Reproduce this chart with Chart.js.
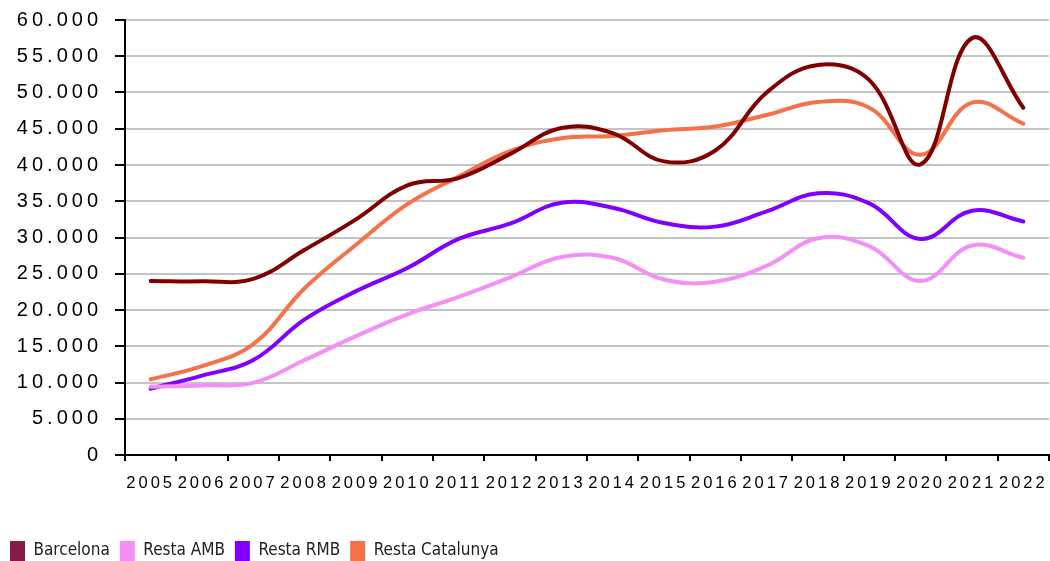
<!DOCTYPE html>
<html><head><meta charset="utf-8">
<script src="https://cdn.jsdelivr.net/npm/chart.js@4/dist/chart.umd.min.js"></script>
<style>html,body{margin:0;padding:0;background:#fff}#wrap{width:1050px;height:561px;position:relative}</style>
</head><body><div id="wrap"><canvas id="c"></canvas></div>
<script>
const years = ['2005','2006','2007','2008','2009','2010','2011','2012','2013','2014','2015','2016','2017','2018','2019','2020','2021','2022'];
const seriesNames = ['Barcelona','Resta AMB','Resta RMB','Resta Catalunya'];
const barcelona = [24000,23950,24300,28300,32500,37200,38200,41500,45100,44400,40500,42000,50000,53800,51700,40100,57500,47900];
const restaAMB  = [9400,9600,9950,13100,16400,19400,21800,24500,27300,27200,24200,23900,26100,29900,28800,24000,28900,27200];
const restaRMB  = [9150,10950,13100,18700,22600,25800,29800,31900,34800,34100,32000,31500,33600,36100,34700,29800,33700,32200];
const restaCat  = [10450,12250,15300,23000,29000,34600,38400,41900,43700,44000,44800,45300,46900,48700,47900,41400,48600,45700];
const yMin = 0, yMax = 60000, yStep = 5000;

const lineColors = ['#800000','#F290F5','#8000FF','#F4714A'];
const legendColors = ['#861A48','#F290F5','#8000FF','#F4714A'];

function fmt(v){ return String(v).replace(/\B(?=(\d{3})+(?!\d))/g,'.'); }

const spacing = {x:'3px', y:'4px'};
const spacingPlugin = {
  id:'spacing',
  beforeDraw(chart){
    ['x','y'].forEach(id=>{
      const s = chart.scales[id];
      if (s && !s._spPatched){
        const orig = s.drawLabels.bind(s);
        s.drawLabels = function(area){
          const ctx = this.ctx; ctx.save(); ctx.letterSpacing = spacing[id]; orig(area); ctx.restore();
        };
        s._spPatched = true;
      }
    });
  }
};

const data = [barcelona, restaAMB, restaRMB, restaCat];

new Chart(document.getElementById('c'), {
  type:'line',
  data:{
    labels: years,
    datasets: data.map((d,i)=>({
      label: seriesNames[i], data: d, borderColor: lineColors[i], backgroundColor: legendColors[i],
      borderWidth: 4, pointRadius: 0, tension: 0.4, fill:false, borderCapStyle:'round', borderJoinStyle:'round'
    }))
  },
  options:{
    responsive:true, maintainAspectRatio:false, animation:false,
    layout:{padding:{top:20,right:1,bottom:-10,left:0}},
    plugins:{
      tooltip:{enabled:false},
      legend:{
        position:'bottom', align:'start',
        labels:{
          boxWidth:15, boxHeight:20, padding:10, color:'#222',
          font:{family:"'DejaVu Sans Condensed', Roboto, sans-serif", size:17},
          generateLabels(chart){
            return chart.data.datasets.map((ds,i)=>({text:ds.label, fillStyle:legendColors[i], strokeStyle:legendColors[i], lineWidth:0, hidden:false, datasetIndex:i, fontColor:'#222'}));
          }
        }
      }
    },
    scales:{
      x:{
        offset:true,
        grid:{offset:true, drawOnChartArea:false, drawTicks:true, tickLength:6, tickColor:'#000', lineWidth:2},
        border:{color:'#000', width:2},
        ticks:{color:'#000', font:{family:"'Liberation Sans', Arial, sans-serif", size:16.5}, padding:13, maxRotation:0, autoSkip:false},
        afterFit(s){ s.height = 76; s.paddingLeft = 0; s.paddingRight = 0; }
      },
      y:{
        min:yMin, max:yMax,
        grid:{color:'#c4c4c4', lineWidth:2, tickColor:'#000', tickLength:10, drawTicks:true},
        border:{color:'#000', width:2},
        ticks:{stepSize:yStep, color:'#000', font:{family:"'Liberation Sans', Arial, sans-serif", size:20}, padding:13, callback:(v)=>fmt(v)},
        afterFit(s){ s.width = 125; s.paddingTop = 0; s.paddingBottom = 0; }
      }
    }
  },
  plugins:[spacingPlugin]
});
</script></body></html>
